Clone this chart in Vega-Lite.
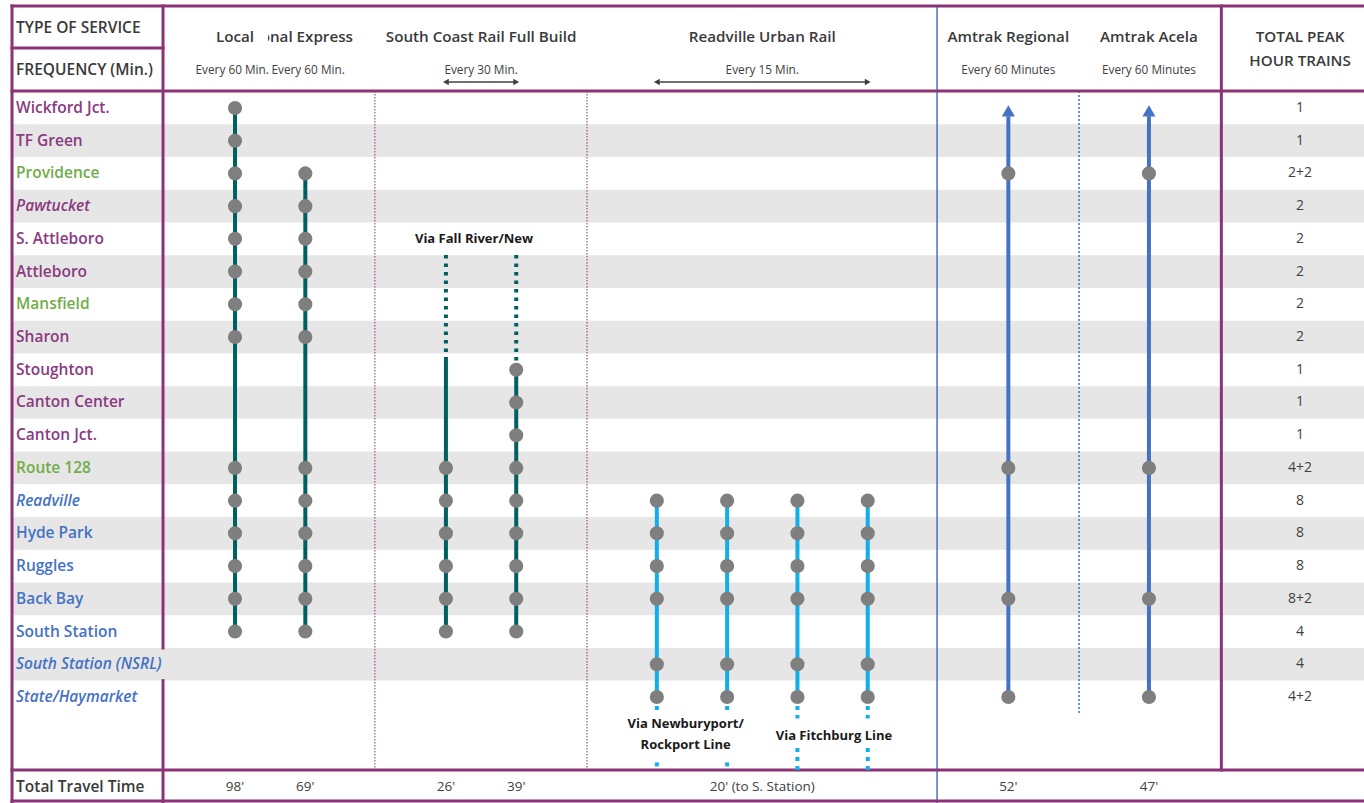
{
  "$schema": "https://vega.github.io/schema/vega-lite/v6.json",
  "width": 1364,
  "height": 803,
  "autosize": {"type": "none"},
  "padding": 0,
  "background": "white",
  "config": {"view": {"stroke": null}, "text": {"font": "Open Sans"}},
  "data": {"values": [{}]},
  "datasets": {
    "stations": [
      {"row": 0, "station": "Wickford Jct.", "group": "Commuter", "proposed": false, "total": "1"},
      {"row": 1, "station": "TF Green", "group": "Commuter", "proposed": false, "total": "1"},
      {"row": 2, "station": "Providence", "group": "Hub", "proposed": false, "total": "2+2"},
      {"row": 3, "station": "Pawtucket", "group": "Commuter", "proposed": true, "total": "2"},
      {"row": 4, "station": "S. Attleboro", "group": "Commuter", "proposed": false, "total": "2"},
      {"row": 5, "station": "Attleboro", "group": "Commuter", "proposed": false, "total": "2"},
      {"row": 6, "station": "Mansfield", "group": "Hub", "proposed": false, "total": "2"},
      {"row": 7, "station": "Sharon", "group": "Commuter", "proposed": false, "total": "2"},
      {"row": 8, "station": "Stoughton", "group": "Commuter", "proposed": false, "total": "1"},
      {"row": 9, "station": "Canton Center", "group": "Commuter", "proposed": false, "total": "1"},
      {"row": 10, "station": "Canton Jct.", "group": "Commuter", "proposed": false, "total": "1"},
      {"row": 11, "station": "Route 128", "group": "Hub", "proposed": false, "total": "4+2"},
      {"row": 12, "station": "Readville", "group": "Urban", "proposed": true, "total": "8"},
      {"row": 13, "station": "Hyde Park", "group": "Urban", "proposed": false, "total": "8"},
      {"row": 14, "station": "Ruggles", "group": "Urban", "proposed": false, "total": "8"},
      {"row": 15, "station": "Back Bay", "group": "Urban", "proposed": false, "total": "8+2"},
      {"row": 16, "station": "South Station", "group": "Urban", "proposed": false, "total": "4"},
      {"row": 17, "station": "South Station (NSRL)", "group": "Urban", "proposed": true, "total": "4"},
      {"row": 18, "station": "State/Haymarket", "group": "Urban", "proposed": true, "total": "4+2"}
    ],
    "grid": [
      {"kind": "frame", "x": -3.172, "x2": 16.059, "y": -3.117, "y2": -3.117},
      {"kind": "frame", "x": -3.172, "x2": -3.172, "y": -3.117, "y2": 21.24},
      {"kind": "frame", "x": -1.024, "x2": -1.024, "y": -3.117, "y2": 16.5},
      {"kind": "frame", "x": -1.024, "x2": -1.024, "y": 17.5, "y2": 21.24},
      {"kind": "frame", "x": -3.172, "x2": -1.024, "y": -1.833, "y2": -1.833},
      {"kind": "frame", "x": -3.172, "x2": 16.059, "y": -0.519, "y2": -0.519},
      {"kind": "frame", "x": -3.172, "x2": 16.059, "y": 20.231, "y2": 20.231},
      {"kind": "frame", "x": -3.172, "x2": 16.059, "y": 21.18, "y2": 21.18},
      {"kind": "frame", "x": 14.03, "x2": 14.03, "y": -3.117, "y2": 20.231},
      {"kind": "divider", "x": 1.99, "x2": 1.99, "y": -0.519, "y2": 20.231},
      {"kind": "divider", "x": 5.007, "x2": 5.007, "y": -0.519, "y2": 20.231},
      {"kind": "amtrakDivider", "x": 12.006, "x2": 12.006, "y": -0.519, "y2": 18.49},
      {"kind": "blueEdge", "x": 9.986, "x2": 9.986, "y": -3.117, "y2": 21.24}
    ],
    "segments": [
      {"col": 0, "from": 0, "to": 16, "line": "teal", "style": "solid"},
      {"col": 1, "from": 2, "to": 16, "line": "teal", "style": "solid"},
      {"col": 3, "from": 4.49, "to": 7.64, "line": "teal", "style": "dotted"},
      {"col": 3, "from": 7.64, "to": 16, "line": "teal", "style": "solid"},
      {"col": 4, "from": 4.49, "to": 8, "line": "teal", "style": "dotted"},
      {"col": 4, "from": 8, "to": 16, "line": "teal", "style": "solid"},
      {"col": 6, "from": 12, "to": 18, "line": "rur", "style": "solid"},
      {"col": 7, "from": 12, "to": 18, "line": "rur", "style": "solid"},
      {"col": 8, "from": 12, "to": 18, "line": "rur", "style": "solid"},
      {"col": 9, "from": 12, "to": 18, "line": "rur", "style": "solid"},
      {"col": 6, "from": 18, "to": 18.46, "line": "rur", "style": "dotted"},
      {"col": 7, "from": 18, "to": 18.46, "line": "rur", "style": "dotted"},
      {"col": 8, "from": 18, "to": 18.66, "line": "rur", "style": "dotted"},
      {"col": 9, "from": 18, "to": 18.66, "line": "rur", "style": "dotted"},
      {"col": 6, "from": 20.0, "to": 20.231, "line": "rur", "style": "dotted"},
      {"col": 7, "from": 20.0, "to": 20.231, "line": "rur", "style": "dotted"},
      {"col": 8, "from": 19.56, "to": 20.231, "line": "rur", "style": "dotted"},
      {"col": 9, "from": 19.56, "to": 20.231, "line": "rur", "style": "dotted"},
      {"col": 11, "from": 0.25, "to": 18, "line": "amtrak", "style": "solid"},
      {"col": 13, "from": 0.25, "to": 18, "line": "amtrak", "style": "solid"}
    ],
    "stops": [
      {"col": 0, "row": 0}, {"col": 0, "row": 1}, {"col": 0, "row": 2}, {"col": 0, "row": 3},
      {"col": 0, "row": 4}, {"col": 0, "row": 5}, {"col": 0, "row": 6}, {"col": 0, "row": 7},
      {"col": 0, "row": 11}, {"col": 0, "row": 12}, {"col": 0, "row": 13}, {"col": 0, "row": 14},
      {"col": 0, "row": 15}, {"col": 0, "row": 16},
      {"col": 1, "row": 2}, {"col": 1, "row": 3}, {"col": 1, "row": 4}, {"col": 1, "row": 5},
      {"col": 1, "row": 6}, {"col": 1, "row": 7}, {"col": 1, "row": 11}, {"col": 1, "row": 12},
      {"col": 1, "row": 13}, {"col": 1, "row": 14}, {"col": 1, "row": 15}, {"col": 1, "row": 16},
      {"col": 3, "row": 11}, {"col": 3, "row": 12}, {"col": 3, "row": 13}, {"col": 3, "row": 14},
      {"col": 3, "row": 15}, {"col": 3, "row": 16},
      {"col": 4, "row": 8}, {"col": 4, "row": 9}, {"col": 4, "row": 10}, {"col": 4, "row": 11},
      {"col": 4, "row": 12}, {"col": 4, "row": 13}, {"col": 4, "row": 14}, {"col": 4, "row": 15},
      {"col": 4, "row": 16},
      {"col": 6, "row": 12}, {"col": 6, "row": 13}, {"col": 6, "row": 14}, {"col": 6, "row": 15}, {"col": 6, "row": 17}, {"col": 6, "row": 18},
      {"col": 7, "row": 12}, {"col": 7, "row": 13}, {"col": 7, "row": 14}, {"col": 7, "row": 15}, {"col": 7, "row": 17}, {"col": 7, "row": 18},
      {"col": 8, "row": 12}, {"col": 8, "row": 13}, {"col": 8, "row": 14}, {"col": 8, "row": 15}, {"col": 8, "row": 17}, {"col": 8, "row": 18},
      {"col": 9, "row": 12}, {"col": 9, "row": 13}, {"col": 9, "row": 14}, {"col": 9, "row": 15}, {"col": 9, "row": 17}, {"col": 9, "row": 18},
      {"col": 11, "row": 2}, {"col": 11, "row": 11}, {"col": 11, "row": 15}, {"col": 11, "row": 18},
      {"col": 13, "row": 2}, {"col": 13, "row": 11}, {"col": 13, "row": 15}, {"col": 13, "row": 18}
    ],
    "headers": [
      {"col": -0.04, "freq": "Every 60 Min."},
      {"col": 0, "travel": "98'"},
      {"col": 0.8, "title": "Regional Express"},
      {"col": 1.04, "freq": "Every 60 Min."},
      {"col": 1, "travel": "69'"},
      {"col": 3.5, "title": "South Coast Rail Full Build", "freq": "Every 30 Min."},
      {"col": 3, "travel": "26'"},
      {"col": 4, "travel": "39'"},
      {"col": 7.5, "title": "Readville Urban Rail", "freq": "Every 15 Min.", "travel": "20' (to S. Station)"},
      {"col": 11, "title": "Amtrak Regional", "freq": "Every 60 Minutes", "travel": "52'"},
      {"col": 13, "title": "Amtrak Acela", "freq": "Every 60 Minutes", "travel": "47'"}
    ],
    "arrows": [
      {"from": 3, "to": 4},
      {"from": 6, "to": 9}
    ]
  },
  "layer": [
    {
      "data": {"name": "stations"},
      "transform": [{"filter": "datum.row % 2 == 1"}],
      "mark": {"type": "rule", "color": "#e6e6e6", "strokeWidth": 32.7, "strokeCap": "butt"},
      "encoding": {
        "x": {"datum": -3.172, "type": "quantitative", "scale": {"domain": [-3.343, 16.059], "nice": false, "zero": false}, "axis": null},
        "x2": {"datum": 16.059},
        "y": {"field": "row", "type": "quantitative", "scale": {"domain": [-3.3, 21.24], "nice": false, "zero": false, "reverse": true}, "axis": null}
      }
    },
    {
      "data": {"name": "grid"},
      "transform": [{"filter": "datum.kind == 'divider'"}],
      "mark": {"type": "rule", "color": "#8A3377", "strokeWidth": 1, "strokeDash": [1.5, 1.5]},
      "encoding": {
        "x": {"field": "x", "type": "quantitative", "scale": {"domain": [-3.343, 16.059], "nice": false, "zero": false}, "axis": null},
        "x2": {"field": "x2"},
        "y": {"field": "y", "type": "quantitative", "scale": {"domain": [-3.3, 21.24], "nice": false, "zero": false, "reverse": true}, "axis": null},
        "y2": {"field": "y2"}
      }
    },
    {
      "data": {"name": "grid"},
      "transform": [{"filter": "datum.kind == 'amtrakDivider'"}],
      "mark": {"type": "rule", "color": "#4472C4", "strokeWidth": 1.5, "strokeDash": [2, 2]},
      "encoding": {
        "x": {"field": "x", "type": "quantitative", "scale": {"domain": [-3.343, 16.059], "nice": false, "zero": false}, "axis": null},
        "x2": {"field": "x2"},
        "y": {"field": "y", "type": "quantitative", "scale": {"domain": [-3.3, 21.24], "nice": false, "zero": false, "reverse": true}, "axis": null},
        "y2": {"field": "y2"}
      }
    },
    {
      "data": {"name": "grid"},
      "transform": [{"filter": "datum.kind == 'blueEdge'"}],
      "mark": {"type": "rule", "color": "#4472C4", "strokeWidth": 1.5},
      "encoding": {
        "x": {"field": "x", "type": "quantitative", "scale": {"domain": [-3.343, 16.059], "nice": false, "zero": false}, "axis": null},
        "x2": {"field": "x2"},
        "y": {"field": "y", "type": "quantitative", "scale": {"domain": [-3.3, 21.24], "nice": false, "zero": false, "reverse": true}, "axis": null},
        "y2": {"field": "y2"}
      }
    },
    {
      "data": {"name": "grid"},
      "transform": [{"filter": "datum.kind == 'frame'"}],
      "mark": {"type": "rule", "color": "#8A3377", "strokeWidth": 3, "strokeCap": "square"},
      "encoding": {
        "x": {"field": "x", "type": "quantitative", "scale": {"domain": [-3.343, 16.059], "nice": false, "zero": false}, "axis": null},
        "x2": {"field": "x2"},
        "y": {"field": "y", "type": "quantitative", "scale": {"domain": [-3.3, 21.24], "nice": false, "zero": false, "reverse": true}, "axis": null},
        "y2": {"field": "y2"}
      }
    },
    {
      "data": {"name": "segments"},
      "transform": [{"filter": "datum.line == 'teal' && datum.style == 'solid'"}],
      "mark": {"type": "rule", "color": "#005F5F", "strokeWidth": 4},
      "encoding": {
        "x": {"field": "col", "type": "quantitative", "scale": {"domain": [-3.343, 16.059], "nice": false, "zero": false}, "axis": null},
        "y": {"field": "from", "type": "quantitative", "scale": {"domain": [-3.3, 21.24], "nice": false, "zero": false, "reverse": true}, "axis": null},
        "y2": {"field": "to"}
      }
    },
    {
      "data": {"name": "segments"},
      "transform": [{"filter": "datum.line == 'teal' && datum.style == 'dotted'"}],
      "mark": {"type": "rule", "color": "#005F5F", "strokeWidth": 4, "strokeDash": [3.5, 5]},
      "encoding": {
        "x": {"field": "col", "type": "quantitative", "scale": {"domain": [-3.343, 16.059], "nice": false, "zero": false}, "axis": null},
        "y": {"field": "from", "type": "quantitative", "scale": {"domain": [-3.3, 21.24], "nice": false, "zero": false, "reverse": true}, "axis": null},
        "y2": {"field": "to"}
      }
    },
    {
      "data": {"name": "segments"},
      "transform": [{"filter": "datum.line == 'rur' && datum.style == 'solid'"}],
      "mark": {"type": "rule", "color": "#12AEEB", "strokeWidth": 4},
      "encoding": {
        "x": {"field": "col", "type": "quantitative", "scale": {"domain": [-3.343, 16.059], "nice": false, "zero": false}, "axis": null},
        "y": {"field": "from", "type": "quantitative", "scale": {"domain": [-3.3, 21.24], "nice": false, "zero": false, "reverse": true}, "axis": null},
        "y2": {"field": "to"}
      }
    },
    {
      "data": {"name": "segments"},
      "transform": [{"filter": "datum.line == 'rur' && datum.style == 'dotted'"}],
      "mark": {"type": "rule", "color": "#12AEEB", "strokeWidth": 4, "strokeDash": [4, 5]},
      "encoding": {
        "x": {"field": "col", "type": "quantitative", "scale": {"domain": [-3.343, 16.059], "nice": false, "zero": false}, "axis": null},
        "y": {"field": "from", "type": "quantitative", "scale": {"domain": [-3.3, 21.24], "nice": false, "zero": false, "reverse": true}, "axis": null},
        "y2": {"field": "to"}
      }
    },
    {
      "data": {"name": "segments"},
      "transform": [{"filter": "datum.line == 'amtrak'"}],
      "mark": {"type": "rule", "color": "#4472C4", "strokeWidth": 4},
      "encoding": {
        "x": {"field": "col", "type": "quantitative", "scale": {"domain": [-3.343, 16.059], "nice": false, "zero": false}, "axis": null},
        "y": {"field": "from", "type": "quantitative", "scale": {"domain": [-3.3, 21.24], "nice": false, "zero": false, "reverse": true}, "axis": null},
        "y2": {"field": "to"}
      }
    },
    {
      "data": {"name": "segments"},
      "transform": [{"filter": "datum.line == 'amtrak'"}],
      "mark": {"type": "point", "shape": "triangle-up", "filled": true, "color": "#4472C4", "size": 170, "opacity": 1},
      "encoding": {
        "x": {"field": "col", "type": "quantitative", "scale": {"domain": [-3.343, 16.059], "nice": false, "zero": false}, "axis": null},
        "y": {"datum": 0.09, "type": "quantitative", "scale": {"domain": [-3.3, 21.24], "nice": false, "zero": false, "reverse": true}, "axis": null}
      }
    },
    {
      "data": {"name": "arrows"},
      "mark": {"type": "rule", "color": "#404040", "strokeWidth": 1.5},
      "encoding": {
        "x": {"field": "from", "type": "quantitative", "scale": {"domain": [-3.343, 16.059], "nice": false, "zero": false}, "axis": null},
        "x2": {"field": "to"},
        "y": {"datum": -0.794, "type": "quantitative", "scale": {"domain": [-3.3, 21.24], "nice": false, "zero": false, "reverse": true}, "axis": null}
      }
    },
    {
      "data": {"name": "arrows"},
      "mark": {"type": "point", "shape": "triangle-left", "filled": true, "color": "#404040", "size": 45, "opacity": 1},
      "encoding": {
        "x": {"field": "from", "type": "quantitative", "scale": {"domain": [-3.343, 16.059], "nice": false, "zero": false}, "axis": null},
        "y": {"datum": -0.794, "type": "quantitative", "scale": {"domain": [-3.3, 21.24], "nice": false, "zero": false, "reverse": true}, "axis": null}
      }
    },
    {
      "data": {"name": "arrows"},
      "mark": {"type": "point", "shape": "triangle-right", "filled": true, "color": "#404040", "size": 45, "opacity": 1},
      "encoding": {
        "x": {"field": "to", "type": "quantitative", "scale": {"domain": [-3.343, 16.059], "nice": false, "zero": false}, "axis": null},
        "y": {"datum": -0.794, "type": "quantitative", "scale": {"domain": [-3.3, 21.24], "nice": false, "zero": false, "reverse": true}, "axis": null}
      }
    },
    {
      "data": {"name": "stops"},
      "mark": {"type": "circle", "color": "#7F7F7F", "size": 200, "opacity": 1},
      "encoding": {
        "x": {"field": "col", "type": "quantitative", "scale": {"domain": [-3.343, 16.059], "nice": false, "zero": false}, "axis": null},
        "y": {"field": "row", "type": "quantitative", "scale": {"domain": [-3.3, 21.24], "nice": false, "zero": false, "reverse": true}, "axis": null}
      }
    },
    {
      "data": {"name": "stations"},
      "transform": [{"filter": "!datum.proposed"}],
      "mark": {"type": "text", "align": "left", "baseline": "middle", "fontSize": 15.5, "fontWeight": 600},
      "encoding": {
        "x": {"datum": -3.115, "type": "quantitative", "scale": {"domain": [-3.343, 16.059], "nice": false, "zero": false}, "axis": null},
        "y": {"field": "row", "type": "quantitative", "scale": {"domain": [-3.3, 21.24], "nice": false, "zero": false, "reverse": true}, "axis": null},
        "text": {"field": "station"},
        "color": {"field": "group", "type": "nominal", "scale": {"domain": ["Commuter", "Hub", "Urban"], "range": ["#8B3A80", "#70AD47", "#4472C4"]}, "legend": null}
      }
    },
    {
      "data": {"name": "stations"},
      "transform": [{"filter": "datum.proposed"}],
      "mark": {"type": "text", "align": "left", "baseline": "middle", "fontSize": 15.5, "fontWeight": 600, "fontStyle": "italic"},
      "encoding": {
        "x": {"datum": -3.115, "type": "quantitative", "scale": {"domain": [-3.343, 16.059], "nice": false, "zero": false}, "axis": null},
        "y": {"field": "row", "type": "quantitative", "scale": {"domain": [-3.3, 21.24], "nice": false, "zero": false, "reverse": true}, "axis": null},
        "text": {"field": "station"},
        "color": {"field": "group", "type": "nominal", "scale": {"domain": ["Commuter", "Hub", "Urban"], "range": ["#8B3A80", "#70AD47", "#4472C4"]}, "legend": null}
      }
    },
    {
      "data": {"name": "stations"},
      "mark": {"type": "text", "align": "center", "baseline": "middle", "fontSize": 14, "color": "#404040"},
      "encoding": {
        "x": {"datum": 15.15, "type": "quantitative", "scale": {"domain": [-3.343, 16.059], "nice": false, "zero": false}, "axis": null},
        "y": {"field": "row", "type": "quantitative", "scale": {"domain": [-3.3, 21.24], "nice": false, "zero": false, "reverse": true}, "axis": null},
        "text": {"field": "total"}
      }
    },
    {
      "data": {"name": "headers"},
      "transform": [{"filter": "isValid(datum.title)"}],
      "mark": {"type": "text", "align": "center", "baseline": "middle", "fontSize": 15.2, "fontWeight": 600, "color": "#3A3A3A"},
      "encoding": {
        "x": {"field": "col", "type": "quantitative", "scale": {"domain": [-3.343, 16.059], "nice": false, "zero": false}, "axis": null},
        "y": {"datum": -2.169, "type": "quantitative", "scale": {"domain": [-3.3, 21.24], "nice": false, "zero": false, "reverse": true}, "axis": null},
        "text": {"field": "title"}
      }
    },
    {
      "mark": {"type": "rect", "color": "white"},
      "encoding": {
        "x": {"datum": -0.6, "type": "quantitative", "scale": {"domain": [-3.343, 16.059], "nice": false, "zero": false}, "axis": null},
        "x2": {"datum": 0.47},
        "y": {"datum": -2.536, "type": "quantitative", "scale": {"domain": [-3.3, 21.24], "nice": false, "zero": false, "reverse": true}, "axis": null},
        "y2": {"datum": -1.772}
      }
    },
    {
      "mark": {"type": "text", "text": "Local", "align": "center", "baseline": "middle", "fontSize": 15.2, "fontWeight": 600, "color": "#3A3A3A"},
      "encoding": {
        "x": {"datum": 0, "type": "quantitative", "scale": {"domain": [-3.343, 16.059], "nice": false, "zero": false}, "axis": null},
        "y": {"datum": -2.169, "type": "quantitative", "scale": {"domain": [-3.3, 21.24], "nice": false, "zero": false, "reverse": true}, "axis": null}
      }
    },
    {
      "data": {"name": "headers"},
      "transform": [{"filter": "isValid(datum.freq)"}],
      "mark": {"type": "text", "align": "center", "baseline": "middle", "fontSize": 11.8, "color": "#404040"},
      "encoding": {
        "x": {"field": "col", "type": "quantitative", "scale": {"domain": [-3.343, 16.059], "nice": false, "zero": false}, "axis": null},
        "y": {"datum": -1.161, "type": "quantitative", "scale": {"domain": [-3.3, 21.24], "nice": false, "zero": false, "reverse": true}, "axis": null},
        "text": {"field": "freq"}
      }
    },
    {
      "data": {"name": "headers"},
      "transform": [{"filter": "isValid(datum.travel)"}],
      "mark": {"type": "text", "align": "center", "baseline": "middle", "fontSize": 13.5, "color": "#404040"},
      "encoding": {
        "x": {"field": "col", "type": "quantitative", "scale": {"domain": [-3.343, 16.059], "nice": false, "zero": false}, "axis": null},
        "y": {"datum": 20.751, "type": "quantitative", "scale": {"domain": [-3.3, 21.24], "nice": false, "zero": false, "reverse": true}, "axis": null},
        "text": {"field": "travel"}
      }
    },
    {
      "mark": {"type": "text", "text": "TYPE OF SERVICE", "align": "left", "baseline": "middle", "fontSize": 15.5, "fontWeight": 600, "color": "#3A3A3A"},
      "encoding": {
        "x": {"datum": -3.115, "type": "quantitative", "scale": {"domain": [-3.343, 16.059], "nice": false, "zero": false}, "axis": null},
        "y": {"datum": -2.444, "type": "quantitative", "scale": {"domain": [-3.3, 21.24], "nice": false, "zero": false, "reverse": true}, "axis": null}
      }
    },
    {
      "mark": {"type": "text", "text": "FREQUENCY (Min.)", "align": "left", "baseline": "middle", "fontSize": 15.5, "fontWeight": 600, "color": "#3A3A3A"},
      "encoding": {
        "x": {"datum": -3.115, "type": "quantitative", "scale": {"domain": [-3.343, 16.059], "nice": false, "zero": false}, "axis": null},
        "y": {"datum": -1.161, "type": "quantitative", "scale": {"domain": [-3.3, 21.24], "nice": false, "zero": false, "reverse": true}, "axis": null}
      }
    },
    {
      "mark": {"type": "text", "text": "Total Travel Time", "align": "left", "baseline": "middle", "fontSize": 15.5, "fontWeight": 600, "color": "#3A3A3A"},
      "encoding": {
        "x": {"datum": -3.115, "type": "quantitative", "scale": {"domain": [-3.343, 16.059], "nice": false, "zero": false}, "axis": null},
        "y": {"datum": 20.751, "type": "quantitative", "scale": {"domain": [-3.3, 21.24], "nice": false, "zero": false, "reverse": true}, "axis": null}
      }
    },
    {
      "mark": {"type": "text", "text": ["TOTAL PEAK", "HOUR TRAINS"], "align": "center", "baseline": "middle", "lineHeight": 24, "fontSize": 15.2, "fontWeight": 600, "color": "#3A3A3A"},
      "encoding": {
        "x": {"datum": 15.15, "type": "quantitative", "scale": {"domain": [-3.343, 16.059], "nice": false, "zero": false}, "axis": null},
        "y": {"datum": -2.169, "type": "quantitative", "scale": {"domain": [-3.3, 21.24], "nice": false, "zero": false, "reverse": true}, "axis": null}
      }
    },
    {
      "mark": {"type": "text", "text": "Via Fall River/New", "align": "center", "baseline": "middle", "fontSize": 13, "fontWeight": "bold", "color": "#1A1A1A"},
      "encoding": {
        "x": {"datum": 3.4, "type": "quantitative", "scale": {"domain": [-3.343, 16.059], "nice": false, "zero": false}, "axis": null},
        "y": {"datum": 4.004, "type": "quantitative", "scale": {"domain": [-3.3, 21.24], "nice": false, "zero": false, "reverse": true}, "axis": null}
      }
    },
    {
      "mark": {"type": "text", "text": ["Via Newburyport/", "Rockport Line"], "align": "center", "baseline": "middle", "lineHeight": 21, "fontSize": 13, "fontWeight": "bold", "color": "#1A1A1A"},
      "encoding": {
        "x": {"datum": 6.41, "type": "quantitative", "scale": {"domain": [-3.343, 16.059], "nice": false, "zero": false}, "axis": null},
        "y": {"datum": 18.826, "type": "quantitative", "scale": {"domain": [-3.3, 21.24], "nice": false, "zero": false, "reverse": true}, "axis": null}
      }
    },
    {
      "mark": {"type": "text", "text": "Via Fitchburg Line", "align": "center", "baseline": "middle", "fontSize": 13, "fontWeight": "bold", "color": "#1A1A1A"},
      "encoding": {
        "x": {"datum": 8.52, "type": "quantitative", "scale": {"domain": [-3.343, 16.059], "nice": false, "zero": false}, "axis": null},
        "y": {"datum": 19.192, "type": "quantitative", "scale": {"domain": [-3.3, 21.24], "nice": false, "zero": false, "reverse": true}, "axis": null}
      }
    }
  ]
}
